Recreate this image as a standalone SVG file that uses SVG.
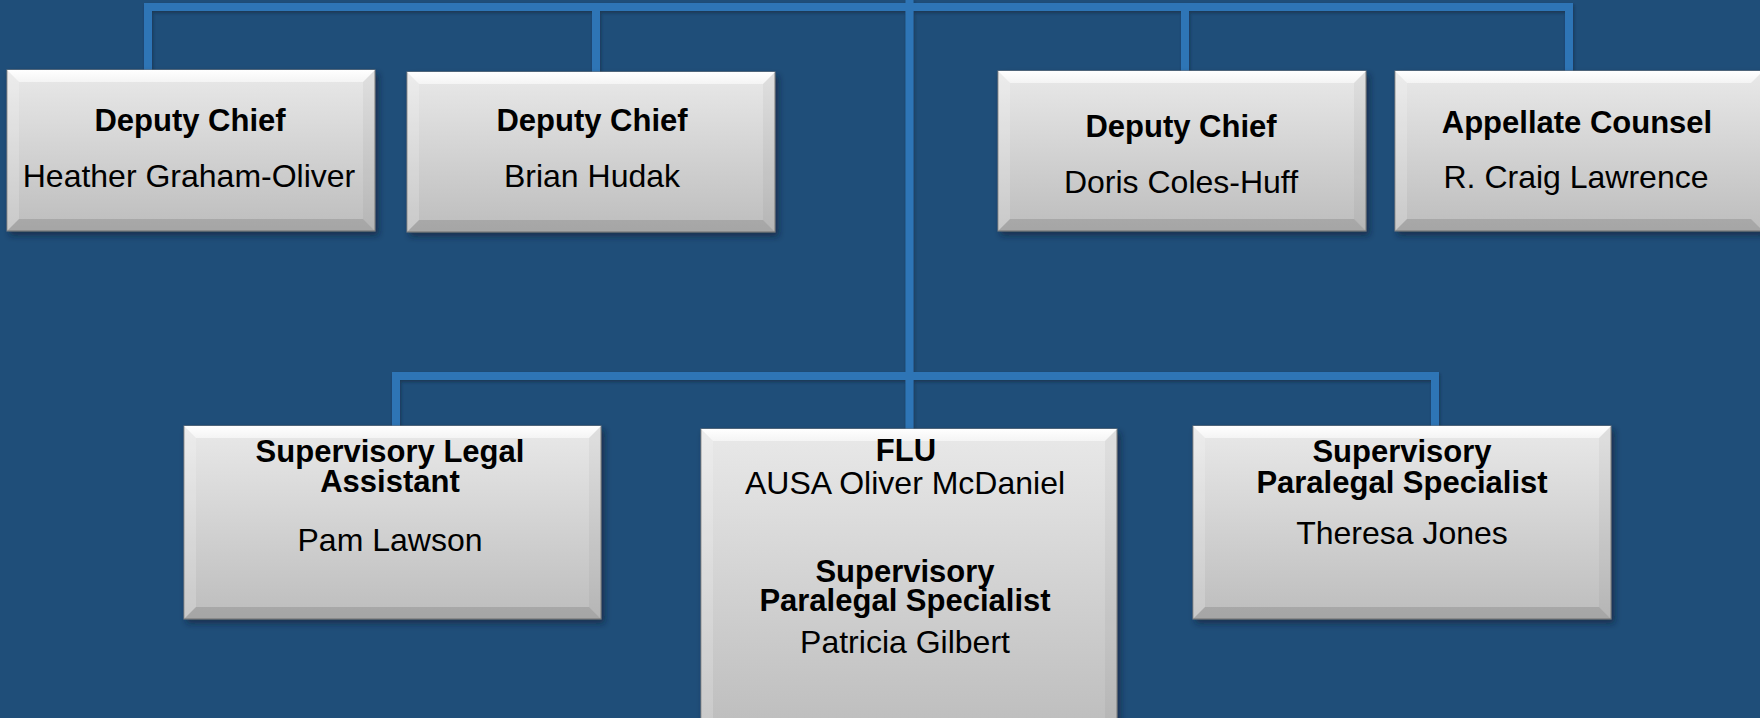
<svg xmlns="http://www.w3.org/2000/svg" width="1760" height="718" viewBox="0 0 1760 718">
<defs>
<linearGradient id="body" x1="0" y1="0" x2="0" y2="1">
<stop offset="0" stop-color="#e9e9e9"/>
<stop offset="1" stop-color="#bdbdbd"/>
</linearGradient>
<linearGradient id="topbev" x1="0" y1="0" x2="0" y2="1">
<stop offset="0" stop-color="#ffffff"/>
<stop offset="1" stop-color="#f4f4f4"/>
</linearGradient>
<filter id="shadow" x="-10%" y="-10%" width="120%" height="130%">
<feDropShadow dx="3" dy="4" stdDeviation="3" flood-color="#0a1e33" flood-opacity="0.6"/>
</filter>
<filter id="lshadow" x="-5%" y="-5%" width="110%" height="110%">
<feDropShadow dx="1" dy="2" stdDeviation="1.5" flood-color="#0a1e33" flood-opacity="0.5"/>
</filter>
<style>
.bg{fill:#1f4e79}
.conn{fill:none;stroke:#2e75b6;stroke-width:8;stroke-linejoin:miter;stroke-linecap:butt}
.body{fill:url(#body);stroke:#7f7f7f;stroke-width:1}
.tb{fill:url(#topbev)}
.lb{fill:#ffffff;fill-opacity:0.18}
.rb{fill:#000000;fill-opacity:0.04}
.bb{fill:#000000;fill-opacity:0.12}
.t{font-family:"Liberation Sans",Arial,sans-serif;font-size:31px;font-weight:bold;fill:#000;text-anchor:middle}
.n{font-family:"Liberation Sans",Arial,sans-serif;font-size:32px;fill:#000;text-anchor:middle}
</style>
</defs>
<rect class="bg" x="0" y="0" width="1760" height="718"/>

<g id="connectors" filter="url(#lshadow)">
<path class="conn" d="M148,70 V7 H1569 V71"/>
<path class="conn" d="M596,7 V72"/>
<path class="conn" d="M1185,7 V71"/>
<path class="conn" d="M909.5,0 V429"/>
<path class="conn" d="M396,426 V376 H1435 V426"/>
</g>

<g id="node-graham-oliver">
<rect class="body" x="7" y="70" width="368" height="161" filter="url(#shadow)"/>
<polygon class="tb" points="7,70 375,70 363,82 19,82"/>
<polygon class="lb" points="7,70 19,82 19,219 7,231"/>
<polygon class="rb" points="375,70 375,231 363,219 363,82"/>
<polygon class="bb" points="7,231 375,231 363,219 19,219"/>
<text class="t" x="190" y="131">Deputy Chief</text>
<text class="n" x="189" y="187">Heather Graham-Oliver</text>
</g>

<g id="node-hudak">
<rect class="body" x="407" y="72" width="368" height="160" filter="url(#shadow)"/>
<polygon class="tb" points="407,72 775,72 763,84 419,84"/>
<polygon class="lb" points="407,72 419,84 419,220 407,232"/>
<polygon class="rb" points="775,72 775,232 763,220 763,84"/>
<polygon class="bb" points="407,232 775,232 763,220 419,220"/>
<text class="t" x="592" y="131">Deputy Chief</text>
<text class="n" x="592" y="187">Brian Hudak</text>
</g>

<g id="node-coles-huff">
<rect class="body" x="998" y="71" width="368" height="160" filter="url(#shadow)"/>
<polygon class="tb" points="998,71 1366,71 1354,83 1010,83"/>
<polygon class="lb" points="998,71 1010,83 1010,219 998,231"/>
<polygon class="rb" points="1366,71 1366,231 1354,219 1354,83"/>
<polygon class="bb" points="998,231 1366,231 1354,219 1010,219"/>
<text class="t" x="1181" y="137">Deputy Chief</text>
<text class="n" x="1181" y="193">Doris Coles-Huff</text>
</g>

<g id="node-lawrence">
<rect class="body" x="1395" y="71" width="368" height="160" filter="url(#shadow)"/>
<polygon class="tb" points="1395,71 1763,71 1751,83 1407,83"/>
<polygon class="lb" points="1395,71 1407,83 1407,219 1395,231"/>
<polygon class="bb" points="1395,231 1763,231 1751,219 1407,219"/>
<text class="t" x="1577" y="133">Appellate Counsel</text>
<text class="n" x="1576" y="188">R. Craig Lawrence</text>
</g>

<g id="node-lawson">
<rect class="body" x="184" y="426" width="417" height="193" filter="url(#shadow)"/>
<polygon class="tb" points="184,426 601,426 589,438 196,438"/>
<polygon class="lb" points="184,426 196,438 196,607 184,619"/>
<polygon class="rb" points="601,426 601,619 589,607 589,438"/>
<polygon class="bb" points="184,619 601,619 589,607 196,607"/>
<text class="t" x="390" y="462">Supervisory Legal</text>
<text class="t" x="390" y="492">Assistant</text>
<text class="n" x="390" y="551">Pam Lawson</text>
</g>

<g id="node-flu">
<rect class="body" x="701" y="429" width="416" height="302" filter="url(#shadow)"/>
<polygon class="tb" points="701,429 1117,429 1105,441 713,441"/>
<polygon class="lb" points="701,429 713,441 713,719 701,731"/>
<polygon class="rb" points="1117,429 1117,731 1105,719 1105,441"/>
<text class="t" x="906" y="461">FLU</text>
<text class="n" x="905" y="494">AUSA Oliver McDaniel</text>
<text class="t" x="905" y="582">Supervisory</text>
<text class="t" x="905" y="611">Paralegal Specialist</text>
<text class="n" x="905" y="653">Patricia Gilbert</text>
</g>

<g id="node-jones">
<rect class="body" x="1193" y="426" width="418" height="193" filter="url(#shadow)"/>
<polygon class="tb" points="1193,426 1611,426 1599,438 1205,438"/>
<polygon class="lb" points="1193,426 1205,438 1205,607 1193,619"/>
<polygon class="rb" points="1611,426 1611,619 1599,607 1599,438"/>
<polygon class="bb" points="1193,619 1611,619 1599,607 1205,607"/>
<text class="t" x="1402" y="462">Supervisory</text>
<text class="t" x="1402" y="493">Paralegal Specialist</text>
<text class="n" x="1402" y="544">Theresa Jones</text>
</g>
</svg>
